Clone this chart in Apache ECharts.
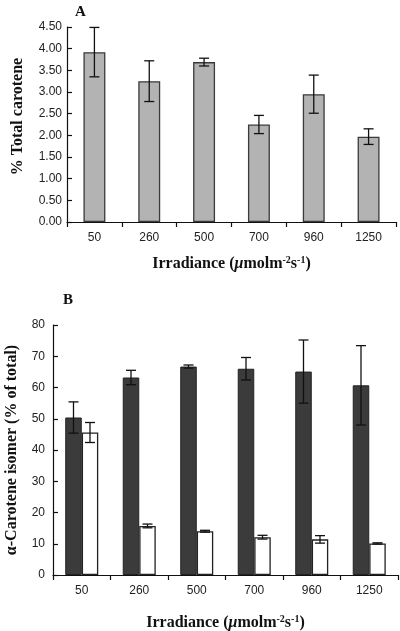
<!DOCTYPE html>
<html><head><meta charset="utf-8">
<script src="https://cdn.jsdelivr.net/npm/echarts@6/dist/echarts.min.js"></script>
<style>html,body{margin:0;padding:0;background:#fff}#c{width:400px;height:631px}</style>
</head><body><div id="c"></div>
<script>
var categories = ['50', '260', '500', '700', '960', '1250'];
// Panel A: % total carotene
var totalCarotene = [3.92, 3.25, 3.69, 2.25, 2.95, 1.97];
var totalCaroteneErr = [0.57, 0.47, 0.09, 0.21, 0.44, 0.18];
// Panel B: alpha-carotene isomers (% of total)
var isomerDark = [50.4, 63.2, 66.7, 66.0, 65.1, 60.7];
var isomerDarkErr = [5.0, 2.3, 0.5, 3.6, 10.1, 12.7];
var isomerWhite = [45.6, 15.7, 14.0, 12.1, 11.4, 10.1];
var isomerWhiteErr = [3.2, 0.6, 0.3, 0.6, 1.2, 0.2];
var yTicksA = [0, 4.5, 0.5];
var yTicksB = [0, 80, 10];

var chart = echarts.init(document.getElementById('c'), null, {renderer: 'canvas'});
var tickFont = {fontFamily: 'Liberation Sans', fontSize: 12, color: '#222'};
var titleFont = {fontFamily: 'Liberation Serif', fontWeight: 'bold', fontSize: 16, color: '#111'};
var axisLine = {show: true, lineStyle: {color: '#111', width: 1.2}};
var xName = 'Irradiance ({mu|μ}molm{sup|-2}s{sup|-1})';
var xNameRich = {
  mu: {fontFamily: 'Liberation Serif', fontWeight: 'bold', fontStyle: 'italic', fontSize: 16, color: '#111'},
  sup: {fontFamily: 'Liberation Serif', fontWeight: 'bold', fontSize: 10, color: '#111', verticalAlign: 'top', padding: [0, 0, 8, 0]}
};

function errRender(vals, errs, offFrac) {
  return function (params, api) {
    var i = api.value(0);
    var v = vals[i], e = errs[i];
    var band = api.size([1, 0])[0];
    var c = api.coord([i, v]);
    var x = c[0] + band * offFrac;
    var top = api.coord([i, v + e])[1];
    var bot = api.coord([i, v - e])[1];
    var hw = 5;
    var st = {stroke: '#111', lineWidth: 1.3};
    return {type: 'group', children: [
      {type: 'line', shape: {x1: x, y1: top, x2: x, y2: bot}, style: st},
      {type: 'line', shape: {x1: x - hw, y1: top, x2: x + hw, y2: top}, style: st},
      {type: 'line', shape: {x1: x - hw, y1: bot, x2: x + hw, y2: bot}, style: st}
    ]};
  };
}

var idx = categories.map(function (c, i) { return i; });

var option = {
  animation: false,
  title: [
    {text: 'A', left: 70, top: 0, textStyle: {fontFamily: 'Liberation Serif', fontWeight: 'bold', fontSize: 15, color: '#111'}},
    {text: 'B', left: 58, top: 288, textStyle: {fontFamily: 'Liberation Serif', fontWeight: 'bold', fontSize: 15, color: '#111'}}
  ],
  grid: [
    {left: 67, top: 27, width: 329, height: 195, containLabel: false, outerBoundsMode: 'none'},
    {left: 53, top: 325, width: 345, height: 250, containLabel: false, outerBoundsMode: 'none'}
  ],
  xAxis: [
    {type: 'category', gridIndex: 0, data: categories, axisLine: axisLine,
     axisTick: {show: true, length: 5, lineStyle: {color: '#111', width: 1.2}},
     axisLabel: Object.assign({margin: 10}, tickFont),
     name: xName, nameLocation: 'middle', nameGap: 33,
     nameTextStyle: Object.assign({rich: xNameRich}, titleFont)},
    {type: 'category', gridIndex: 1, data: categories, axisLine: axisLine,
     axisTick: {show: true, length: 5, lineStyle: {color: '#111', width: 1.2}},
     axisLabel: Object.assign({margin: 10}, tickFont),
     name: xName, nameLocation: 'middle', nameGap: 39,
     nameTextStyle: Object.assign({rich: xNameRich}, titleFont)}
  ],
  yAxis: [
    {type: 'value', gridIndex: 0, min: yTicksA[0], max: yTicksA[1], interval: yTicksA[2],
     axisLine: axisLine, splitLine: {show: false},
     axisTick: {show: true, inside: true, length: 5, lineStyle: {color: '#111', width: 1.2}},
     axisLabel: Object.assign({margin: 5, formatter: function (v) { return v.toFixed(2); }}, tickFont),
     name: '% Total carotene', nameLocation: 'middle', nameGap: 41,
     nameTextStyle: Object.assign({}, titleFont, {fontSize: 16, padding: [0, 0, 0, 16]})},
    {type: 'value', gridIndex: 1, min: yTicksB[0], max: yTicksB[1], interval: yTicksB[2],
     axisLine: axisLine, splitLine: {show: false},
     axisTick: {show: true, inside: true, length: 5, lineStyle: {color: '#111', width: 1.2}},
     axisLabel: Object.assign({margin: 8}, tickFont),
     name: 'α-Carotene isomer (% of total)', nameLocation: 'middle', nameGap: 33,
     nameTextStyle: Object.assign({}, titleFont, {fontSize: 16})}
  ],
  series: [
    {type: 'bar', xAxisIndex: 0, yAxisIndex: 0, data: totalCarotene, barWidth: '40%',
     itemStyle: {color: '#b3b3b3', borderColor: '#3a3a3a', borderWidth: 1.3}},
    {type: 'custom', xAxisIndex: 0, yAxisIndex: 0, data: idx, z: 5,
     renderItem: errRender(totalCarotene, totalCaroteneErr, 0)},
    {type: 'bar', xAxisIndex: 1, yAxisIndex: 1, data: isomerDark, barWidth: '28.7%', barGap: '0%',
     itemStyle: {color: '#3b3b3b', borderColor: '#222', borderWidth: 1}},
    {type: 'bar', xAxisIndex: 1, yAxisIndex: 1, data: isomerWhite, barWidth: '28.7%', barGap: '0%',
     itemStyle: {color: '#ffffff', borderColor: '#222', borderWidth: 1.3}},
    {type: 'custom', xAxisIndex: 1, yAxisIndex: 1, data: idx, z: 5,
     renderItem: errRender(isomerDark, isomerDarkErr, -0.1435)},
    {type: 'custom', xAxisIndex: 1, yAxisIndex: 1, data: idx, z: 5,
     renderItem: errRender(isomerWhite, isomerWhiteErr, 0.1435)}
  ]
};
chart.setOption(option);
</script></body></html>
